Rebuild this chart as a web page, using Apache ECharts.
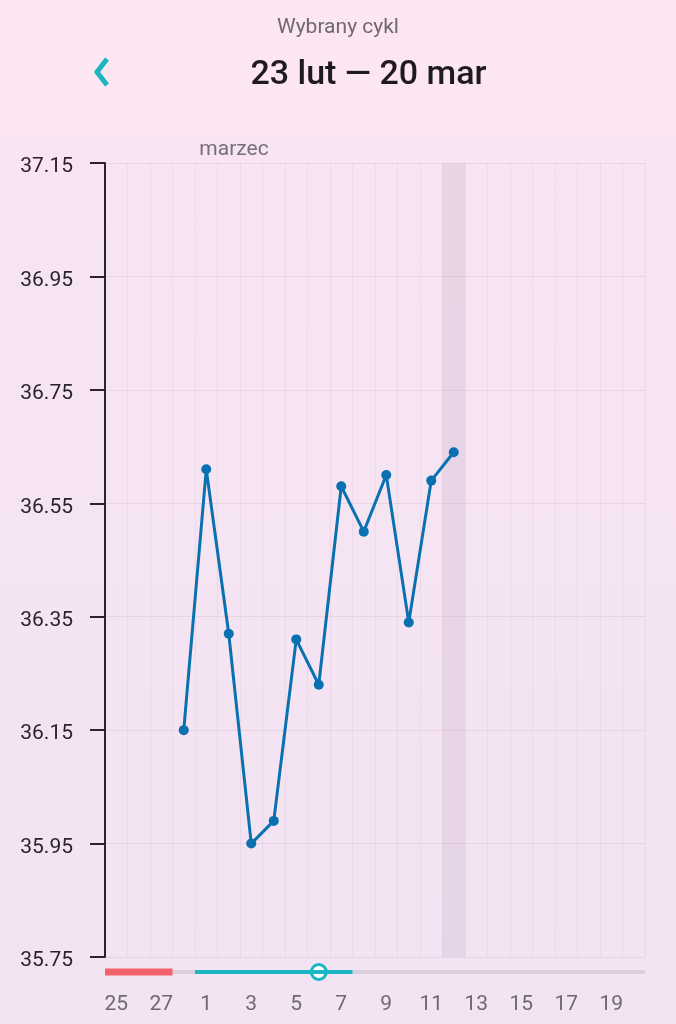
<!DOCTYPE html>
<html><head><meta charset="utf-8">
<script src="https://cdn.jsdelivr.net/npm/echarts@6/dist/echarts.min.js"></script>
<style>
html,body{margin:0;padding:0;}
body{width:676px;height:1024px;background:linear-gradient(#fbe6f1 0px,#fbe6f1 132px,#f8e4f2 136px,#f2e4f3 1024px);font-family:Roboto,"Noto Sans",sans-serif;}
#c{width:676px;height:1024px;}
</style></head>
<body><div id="c"></div>
<script>
// ---- data ----
const days = ['25','26','27','28','1','2','3','4','5','6','7','8','9','10','11','12','13','14','15','16','17','18','19','20'];
const temps = [null,null,null,36.15,36.61,36.32,35.95,35.99,36.31,36.23,36.58,36.50,36.60,36.34,36.59,36.64,null,null,null,null,null,null,null,null];
const yTicks = [35.75,35.95,36.15,36.35,36.55,36.75,36.95,37.15];
const highlightDay = '12';
const redRange = [0,3];      // in day-slots (25..27)
const tealRange = [4,11];    // 1..7 mar
const markerPos = 9.5;       // 6 mar
const headerSub = 'Wybrany cykl';
const headerTitle = '23 lut \u2014 20 mar';
const monthLabel = 'marzec';

const base = yTicks[0];
const yMaxOff = +(yTicks[yTicks.length-1]-base).toFixed(2);
const chart = echarts.init(document.getElementById('c'), null, {renderer:'canvas'});
const font = 'Roboto';
chart.setOption({
  backgroundColor:'transparent',
  animation:false,
  textStyle:{fontFamily:font},
  grid:[
    {left:105,right:31,top:163,bottom:67,containLabel:false},
    {left:105,right:31,top:962,height:20}
  ],
  xAxis:[
    {type:'category',gridIndex:0,data:days,boundaryGap:true,
     axisLine:{show:false},axisTick:{show:false},
     axisLabel:{interval:1,color:'#6f6873',fontSize:21,margin:37,fontFamily:font},
     splitLine:{show:true,interval:0,lineStyle:{color:'rgba(120,80,120,0.07)',width:1}}},
    {type:'value',gridIndex:1,min:0,max:days.length,show:false}
  ],
  yAxis:[
    {type:'value',gridIndex:0,min:0,max:yMaxOff,interval:0.2,
     axisLine:{show:true,lineStyle:{color:'#2b2230',width:2}},
     axisTick:{show:true,length:15,lineStyle:{color:'#2b2230',width:2}},
     axisLabel:{margin:32,
       formatter:v=>'{a|'+(v+base).toFixed(2)+'}',
       rich:{a:{color:'#2b2230',fontSize:21,fontFamily:font,padding:[8,0,0,0]}}},
     splitLine:{show:true,lineStyle:{color:'rgba(120,80,120,0.10)',width:1}}},
    {type:'value',gridIndex:1,min:-1,max:1,show:false}
  ],
  graphic:[
    {type:'text',x:338,y:28,style:{text:headerSub,fill:'#6f6873',font:'21px '+font,align:'center',verticalAlign:'middle'}},
    {type:'text',x:368.5,y:75,style:{text:headerTitle,fill:'#1f1a22',font:'500 34px '+font,align:'center',verticalAlign:'middle'}},
    {type:'polyline',shape:{points:[[107,59],[97,72],[107,85]]},style:{stroke:'#1ab6c3',lineWidth:5,fill:null,lineCap:'butt',lineJoin:'miter'}},
    {type:'text',x:234,y:150,style:{text:monthLabel,fill:'#76707a',font:'21px '+font,align:'center',verticalAlign:'middle'}}
  ],
  series:[
    {type:'bar',xAxisIndex:0,yAxisIndex:0,barWidth:'100%',silent:true,
     data:days.map(d=>d===highlightDay?yMaxOff:null),
     itemStyle:{color:'rgba(190,165,195,0.25)'}},
    {type:'line',xAxisIndex:0,yAxisIndex:0,connectNulls:false,
     data:temps.map(t=>t==null?null:+(t-base).toFixed(3)),
     symbol:'circle',symbolSize:10,showSymbol:true,
     lineStyle:{color:'#0a71b1',width:3},itemStyle:{color:'#0a71b1'}},
    {type:'line',xAxisIndex:1,yAxisIndex:1,symbol:'none',silent:true,
     data:[[0,0],[days.length,0]],lineStyle:{color:'#dccfdd',width:4}},
    {type:'line',xAxisIndex:1,yAxisIndex:1,symbol:'none',silent:true,
     data:[[redRange[0],0],[redRange[1],0]],lineStyle:{color:'#f2626a',width:7,cap:'butt'}},
    {type:'line',xAxisIndex:1,yAxisIndex:1,symbol:'none',silent:true,
     data:[[tealRange[0],0],[tealRange[1],0]],lineStyle:{color:'#1ab6c3',width:4,cap:'butt'}},
    {type:'scatter',xAxisIndex:1,yAxisIndex:1,silent:true,
     data:[[markerPos,0]],symbolSize:15,
     itemStyle:{color:'#ffffff',borderColor:'#1ab6c3',borderWidth:3,opacity:1}}
  ]
});
</script></body></html>
